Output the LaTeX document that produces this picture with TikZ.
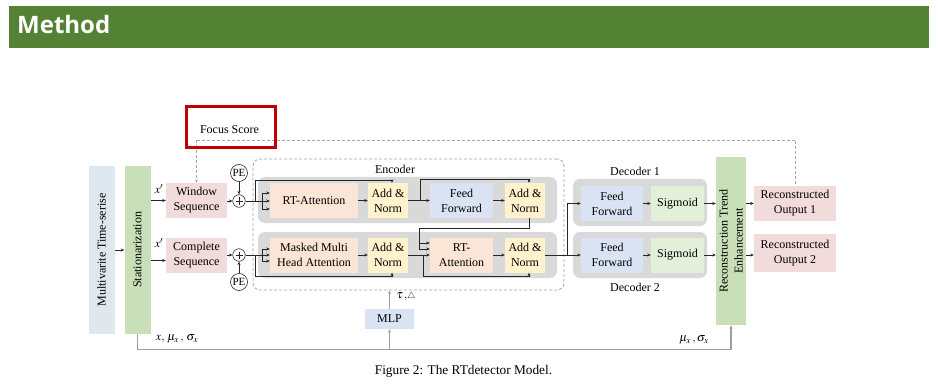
\documentclass[tikz,border=0pt]{standalone}
\usepackage{mathptmx}
\usepackage{fontspec}
\setmainfont{Liberation Serif}
\newfontfamily\titlefont{Open Sans}
\usetikzlibrary{arrows.meta,calc}
\definecolor{titlegreen}{HTML}{548235}
\definecolor{focusred}{HTML}{C00000}
\definecolor{multiblue}{HTML}{DFE7EF}
\definecolor{greenbox}{HTML}{C8DFB8}
\definecolor{pinkbox}{HTML}{F2DCDB}
\definecolor{peach}{HTML}{FBE5D6}
\definecolor{ylw}{HTML}{FFF2CC}
\definecolor{ltblue}{HTML}{DAE3F3}
\definecolor{sigg}{HTML}{E2F0D9}
\definecolor{graybg}{HTML}{D9D9D9}
\definecolor{dashgray}{HTML}{A6A6A6}
\definecolor{linegray}{HTML}{A0A0A0}
\tikzset{
  bx/.style={draw=none, inner sep=0pt, align=center},
  gbg/.style={fill=graybg, draw=none, rounded corners=7pt, inner sep=0pt},
  ln/.style={draw=black!85, line width=0.6pt},
  arr/.style={ln, -{Stealth[length=3.5pt,width=3pt]}},
  gln/.style={draw=linegray, line width=1.3pt},
  garr/.style={gln, -{Stealth[length=3.5pt,width=3pt]}},
  dsh/.style={draw=dashgray, line width=0.8pt, dash pattern=on 3pt off 2pt},
  lbl/.style={inner sep=0pt},
}
\begin{document}
\begin{tikzpicture}[x=1pt,y=-1pt,font=\fontsize{12}{15}\selectfont]
\useasboundingbox (0,0) rectangle (939,390);
\fill[white] (0,0) rectangle (939,390);
% title bar
\fill[titlegreen] (9,6) rectangle (929,48);
\node[anchor=base west, inner sep=0pt, text=white, font=\titlefont\bfseries\fontsize{24}{28}\selectfont] (title) at (17,34) {Method};

% left boxes
\node[bx, fill=multiblue, minimum width=26, minimum height=168] (multi) at (101.5,250) {};
\node[rotate=90, lbl] (multit) at (multi) {Multivarite Time-serise};
\node[bx, fill=greenbox, minimum width=26, minimum height=168] (stat) at (137.5,250) {};
\node[rotate=90, lbl] (statt) at (stat) {Stationarization};

\node[bx, fill=pinkbox, minimum width=61, minimum height=35] (win) at (196.5,200.5) {Window\\Sequence};
\node[bx, fill=pinkbox, minimum width=61, minimum height=35] (comp) at (196.5,255.5) {Complete\\Sequence};
\node[lbl] (xp1) at (159,189) {$x'$};
\node[lbl] (xp2) at (159,243) {$x'$};

% PE and plus
\node[circle, draw=black!85, line width=0.6pt, minimum size=17, inner sep=0pt, font=\fontsize{11}{13}\selectfont] (pe1) at (239,173) {PE};
\node[circle, draw=black!85, line width=0.6pt, minimum size=12.5, inner sep=0pt] (p1) at (239,201) {};
\node[circle, draw=black!85, line width=0.6pt, minimum size=12.5, inner sep=0pt] (p2) at (239,255) {};
\node[circle, draw=black!85, line width=0.6pt, minimum size=17, inner sep=0pt, font=\fontsize{11}{13}\selectfont] (pe2) at (239,282) {PE};
\foreach \p in {p1,p2}{
  \draw[ln] ($(\p)+(-3.5,0)$) -- ($(\p)+(3.5,0)$);
  \draw[ln] ($(\p)+(0,-3.5)$) -- ($(\p)+(0,3.5)$);
}

% encoder frame
\node[draw=dashgray, line width=0.8pt, dash pattern=on 3pt off 2pt, rounded corners=7pt, minimum width=311, minimum height=131, inner sep=0pt] (enc) at (408.5,224.5) {};
\node[lbl] (enct) at (395,169) {Encoder};
\node[gbg, minimum width=299, minimum height=46] (eg1) at (407.5,200) {};
\node[gbg, minimum width=299, minimum height=46] (eg2) at (407.5,255) {};

\node[bx, fill=peach, minimum width=88, minimum height=35] (rta) at (314,200.5) {RT-Attention};
\node[bx, fill=ylw, minimum width=40, minimum height=35] (an1) at (388,200.5) {Add \&\\Norm};
\node[bx, fill=ltblue, minimum width=63, minimum height=35] (ff1) at (461.5,200.5) {Feed\\Forward};
\node[bx, fill=ylw, minimum width=40, minimum height=35] (an2) at (525,200.5) {Add \&\\Norm};

\node[bx, fill=peach, minimum width=88, minimum height=35] (mmha) at (314,255) {Masked Multi\\Head Attention};
\node[bx, fill=ylw, minimum width=40, minimum height=35] (an3) at (388,255) {Add \&\\Norm};
\node[bx, fill=peach, minimum width=63, minimum height=35] (rta2) at (461.5,255) {RT-\\Attention};
\node[bx, fill=ylw, minimum width=40, minimum height=35] (an4) at (525,255) {Add \&\\Norm};

% decoders
\node[gbg, minimum width=134, minimum height=47] (dg1) at (640,202.5) {};
\node[gbg, minimum width=134, minimum height=46] (dg2) at (640,255) {};
\node[lbl] (d1t) at (635,171) {Decoder 1};
\node[lbl] (d2t) at (635,287) {Decoder 2};
\node[bx, fill=ltblue, minimum width=62, minimum height=35] (ff3) at (612,203.5) {Feed\\Forward};
\node[bx, fill=sigg, minimum width=53, minimum height=35] (sig1) at (677.5,203.5) {Sigmoid};
\node[bx, fill=ltblue, minimum width=62, minimum height=35] (ff4) at (612,255) {Feed\\Forward};
\node[bx, fill=sigg, minimum width=53, minimum height=35] (sig2) at (677.5,255) {Sigmoid};

% RTE and outputs
\node[bx, fill=greenbox, minimum width=30, minimum height=168] (rte) at (731,241) {};
\node[rotate=90, lbl, align=center] (rtet) at (rte) {Reconstruction Trend\\Enhancement};
\node[bx, fill=pinkbox, minimum width=82, minimum height=35] (out1) at (795,203.5) {Reconstructed\\Output 1};
\node[bx, fill=pinkbox, minimum width=82, minimum height=38] (out2) at (795,253) {Reconstructed\\Output 2};

% MLP
\node[bx, fill=ltblue, minimum width=49, minimum height=20] (mlp) at (389.5,319) {MLP};

% focus score dashed path
\coordinate (fs) at (196.5,140);
\draw[dsh, -{Stealth[length=3.5pt,width=3pt]}] (fs) -- (win.north);
\draw[dsh] (fs) -| (out1.north);
\node[draw=focusred, line width=3pt, minimum width=89, minimum height=41, inner sep=0pt] (focus) at (230.5,127.5) {};
\node[lbl] (focust) at (229.5,130) {Focus Score};

% left connectors
\draw[arr] (multi) -- (stat);
\draw[arr] (stat.east |- win) -- (win.west);
\draw[arr] ($(stat.east |- comp.west)+(0,5)$) -- ($(comp.west)+(0,5)$);
\draw[arr] (win.east |- p1) -- (p1.west);
\draw[arr] (comp.east |- p2) -- (p2.west);
\draw[arr] (pe1) -- (p1);
\draw[arr] (pe2) -- (p2);

% encoder top row
\coordinate (k1) at ($(rta.west)+(-8,0.5)$);
\draw[ln] (p1.east) -- (k1);
\draw[ln] ($(k1)+(0,-8)$) -- ($(k1)+(0,8)$);
\foreach \d in {-8,0,8} \draw[arr] ($(k1)+(0,\d)$) -- ($(rta.west)+(0,\d+0.5)$);
\draw[arr] ($(k1)+(-7,0)$) |- ($(an1.north)+(4,-2.5)$) -- ($(an1.north)+(4,0)$);
\draw[arr] (rta) -- (an1);
\draw[arr] (an1) -- (ff1);
\draw[arr] ($(an1.east)!0.55!(ff1.west)$) |- ($(an2.north)+(4,-3)$) -- ($(an2.north)+(4,0)$);
\draw[arr] (ff1) -- (an2);

% encoder bottom row
\coordinate (k2) at ($(mmha.west)+(-8,0)$);
\draw[ln] (p2.east) -- (k2);
\draw[ln] ($(k2)+(0,-6)$) -- ($(k2)+(0,6)$);
\foreach \d in {-6,0,6} \draw[arr] ($(k2)+(0,\d)$) -- ($(mmha.west)+(0,\d)$);
\draw[arr] ($(k2)+(-7,0)$) |- ($(an3.south)+(4,4)$) -- ($(an3.south)+(4,0)$);
\draw[arr] (mmha) -- (an3);
\draw[arr] (an3) -- (rta2);
\draw[arr] ($(an3.east)!0.68!(rta2.west)$) |- ($(an4.south)+(4,4)$) -- ($(an4.south)+(4,0)$);
\draw[arr] (rta2) -- (an4);

% encoder top output into RT-Attention
\coordinate (k3) at ($(rta2.west)+(-11,0)$);
\draw[ln] ($(an2.south)+(4,0)$) -- ($(an2.south)+(4,10)$) -| ($(k3)+(0,-6)$);
\draw[arr] ($(k3)+(0,-12)$) -- ($(rta2.west)+(0,-12)$);
\draw[arr] ($(k3)+(0,-6)$) -- ($(rta2.west)+(0,-6)$);

% to decoders
\coordinate (k4) at ($(ff4.west)+(-14,0)$);
\draw[arr] (an4) -- (ff4);
\draw[arr] (k4) |- (ff3.west);
\draw[arr] (ff3) -- (sig1);
\draw[arr] (ff4) -- (sig2);
\draw[arr] (sig1.east) -- (sig1.east -| rte.west);
\draw[arr] (sig2.east) -- (sig2.east -| rte.west);
\draw[arr] (rte.east |- out1.west) -- (out1.west);
\draw[arr] ($(rte.east |- out2.west)+(0,2)$) -- ($(out2.west)+(0,2)$);

% bottom stats line
\coordinate (b1) at ($(stat.south)+(0,15)$);
\draw[garr] (stat.south) -- (b1) -| (rte.south);
\draw[garr] (mlp.south |- b1) -- (mlp.south);
\draw[garr] (mlp.north) -- (mlp.north |- enc.south);
\node[lbl] (stats1) at (177,339) {$x,\,\mu_x\,,\,\sigma_x$};
\node[lbl] (stats2) at (694,340) {$\mu_x\,,\sigma_x$};
\node[lbl] (tau) at (406,297) {$\tau\,,\scriptstyle\triangle$};

% caption
\node[lbl, font=\fontsize{13.3}{15}\selectfont] (cap) at (463.5,371) {Figure 2: The RTdetector Model.};
\end{tikzpicture}
\end{document}
